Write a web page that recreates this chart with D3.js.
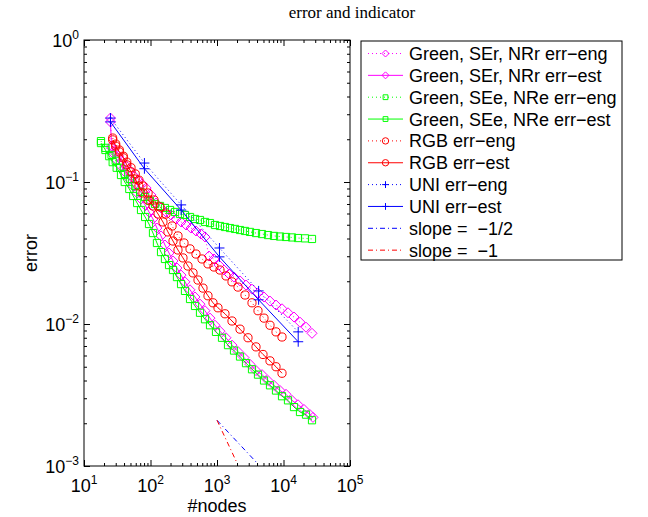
<!DOCTYPE html>
<meta charset="utf-8">
<script src="https://d3js.org/d3.v7.min.js"></script>
<style>
    body { margin: 0; background: #fff; }
    text { font-family: "Liberation Sans", Arial, Helvetica, sans-serif; }
</style>
<div id="chart"></div>

<script>
    // Green, SEr, NRr  (magenta diamonds)
    const srEngN = [25, 26, 28, 33, 37, 43, 49, 57, 65, 75, 86, 102, 121, 144, 171, 203, 242, 288, 342, 406,
        483, 575, 660, 758, 901, 1072, 1274, 1515, 1801, 2218, 2730, 3359, 4136, 5092, 6266, 7714, 9494, 11685,
        14385, 17706, 21795, 26827];
    const srEngErr = [0.282, 0.179, 0.165, 0.152, 0.141, 0.130, 0.120, 0.110, 0.103, 0.0968, 0.0907, 0.0810,
        0.0711, 0.0656, 0.0615, 0.0586, 0.0549, 0.0523, 0.0498, 0.0474, 0.0452, 0.0430, 0.0410, 0.0301, 0.0287,
        0.0260, 0.0240, 0.0225, 0.0214, 0.0201, 0.0188, 0.0176, 0.0165, 0.0155, 0.0145, 0.0136, 0.0128, 0.0120,
        0.0112, 0.0103, 0.0095, 0.0086];
    const srEstN = [25, 26, 28, 31, 36, 41, 48, 55, 63, 72, 83, 95, 109, 125, 144, 165, 190, 218, 250, 288,
        330, 393, 467, 555, 660, 785, 933, 1109, 1366, 1681, 2069, 2547, 3135, 3860, 4751, 5848, 7196, 8859,
        10904, 13425, 16520, 20336, 25026, 27770];
    const srEstErr = [0.265, 0.174, 0.158, 0.143, 0.130, 0.118, 0.105, 0.0937, 0.0837, 0.0759, 0.0689, 0.0615,
        0.0549, 0.0474, 0.0417, 0.0360, 0.0316, 0.0278, 0.0248, 0.0221, 0.0198, 0.0174, 0.0155, 0.0138, 0.0124,
        0.0110, 0.0098, 0.0089, 0.0080, 0.0071, 0.0064, 0.0058, 0.0052, 0.0047, 0.0044, 0.0040, 0.0037, 0.0034,
        0.0032, 0.0029, 0.0027, 0.0025, 0.0023, 0.0022];

    // Green, SEe, NRe  (green squares)
    const seEngN = [18, 21, 26, 30, 35, 41, 49, 59, 70, 83, 98, 117, 139, 165, 197, 234, 278, 330, 393, 467,
        555, 660, 785, 933, 1109, 1319, 1569, 1865, 2218, 2637, 3135, 3860, 4751, 5848, 7196, 8859, 10904,
        13425, 16520, 21053, 26827];
    const seEngErr = [0.194, 0.174, 0.155, 0.141, 0.126, 0.114, 0.105, 0.0937, 0.0851, 0.0784, 0.0735, 0.0700,
        0.0678, 0.0656, 0.0635, 0.0615, 0.0595, 0.0586, 0.0567, 0.0549, 0.0540, 0.0523, 0.0514, 0.0498, 0.0490,
        0.0482, 0.0474, 0.0467, 0.0459, 0.0452, 0.0445, 0.0437, 0.0430, 0.0423, 0.0417, 0.0413, 0.0410, 0.0407,
        0.0403, 0.0401, 0.0397];
    const seEstN = [18, 21, 24, 27, 31, 36, 41, 48, 55, 63, 72, 83, 95, 109, 125, 144, 165, 190, 218, 250,
        288, 330, 393, 467, 555, 660, 785, 966, 1189, 1464, 1801, 2218, 2730, 3359, 4136, 5092, 6266, 7714,
        9494, 11685, 14385, 17706, 21795, 26827];
    const seEstErr = [0.188, 0.168, 0.152, 0.138, 0.126, 0.112, 0.100, 0.0893, 0.0797, 0.0711, 0.0635, 0.0567,
        0.0506, 0.0437, 0.0372, 0.0321, 0.0287, 0.0260, 0.0240, 0.0214, 0.0191, 0.0171, 0.0150, 0.0134, 0.0120,
        0.0108, 0.0098, 0.0088, 0.0080, 0.0071, 0.0065, 0.0059, 0.0053, 0.0048, 0.0044, 0.0040, 0.0037, 0.0034,
        0.0031, 0.0029, 0.0026, 0.0024, 0.0023, 0.0021];

    // RGB  (red circles)
    const rgbEngN = [27, 30, 34, 39, 44, 51, 59, 67, 77, 92, 113, 139, 171, 211, 259, 319, 393, 483, 595, 732,
        901, 1109, 1366, 1681, 2069, 2637, 3359, 4136, 5092, 6266, 7714, 9494];
    const rgbEngErr = [0.204, 0.185, 0.168, 0.152, 0.138, 0.126, 0.114, 0.103, 0.0937, 0.0837, 0.0747, 0.0667,
        0.0595, 0.0490, 0.0417, 0.0372, 0.0338, 0.0311, 0.0287, 0.0265, 0.0252, 0.0240, 0.0218, 0.0198, 0.0182,
        0.0160, 0.0141, 0.0124, 0.0110, 0.0098, 0.0088, 0.0081];
    const rgbEstN = [27, 30, 34, 39, 44, 51, 59, 67, 77, 92, 109, 130, 154, 183, 218, 259, 308, 366, 436, 518,
        616, 732, 871, 1035, 1319, 1681, 2218, 2926, 3860, 4918, 6266, 7714, 9494];
    const rgbEstErr = [0.198, 0.179, 0.163, 0.148, 0.132, 0.118, 0.105, 0.0937, 0.0837, 0.0747, 0.0678, 0.0595,
        0.0523, 0.0445, 0.0384, 0.0332, 0.0292, 0.0256, 0.0229, 0.0204, 0.0179, 0.0158, 0.0141, 0.0130, 0.0118,
        0.0105, 0.0092, 0.0080, 0.0069, 0.0061, 0.0055, 0.0050, 0.0045];

    // UNI  (blue plus)
    const uniN = [25, 81, 289, 1089, 4225, 16641];
    const uniEngErr = [0.282, 0.136, 0.069, 0.0343, 0.0171, 0.0088];
    const uniEstErr = [0.265, 0.124, 0.0635, 0.0297, 0.0148, 0.0075];

    // reference slopes
    const slopeHalfN = [1000, 4000];
    const slopeHalfErr = [0.0021, 0.00105];
    const slopeOneN = [1000, 2000];
    const slopeOneErr = [0.0021, 0.00105];

    const xExponents = [1, 2, 3, 4, 5];
    const yExponents = [-3, -2, -1, 0];

    const legendLabels = ["Green, SEr, NRr err\u2212eng", "Green, SEr, NRr err\u2212est",
        "Green, SEe, NRe err\u2212eng", "Green, SEe, NRe err\u2212est", "RGB err\u2212eng", "RGB err\u2212est",
        "UNI err\u2212eng", "UNI err\u2212est", "slope =  \u22121/2", "slope =  \u22121"];

    // series styling
    const DOT = "1,3", DASHDOT = "5,3,1,3";
    const series = [
        { n: srEngN, e: srEngErr, color: "#ff00ff", dash: DOT, marker: "diamond" },
        { n: srEstN, e: srEstErr, color: "#ff00ff", dash: null, marker: "diamond" },
        { n: seEngN, e: seEngErr, color: "#00ff00", dash: DOT, marker: "square" },
        { n: seEstN, e: seEstErr, color: "#00ff00", dash: null, marker: "square" },
        { n: rgbEngN, e: rgbEngErr, color: "#ff0000", dash: DOT, marker: "circle" },
        { n: rgbEstN, e: rgbEstErr, color: "#ff0000", dash: null, marker: "circle" },
        { n: uniN, e: uniEngErr, color: "#0000ff", dash: DOT, marker: "plus" },
        { n: uniN, e: uniEstErr, color: "#0000ff", dash: null, marker: "plus" },
        { n: slopeHalfN, e: slopeHalfErr, color: "#0000ff", dash: DASHDOT, marker: null },
        { n: slopeOneN, e: slopeOneErr, color: "#ff0000", dash: DASHDOT, marker: null }
    ];
    series.forEach((s, i) => s.label = legendLabels[i]);

    const W = 648, H = 517;
    const plot = { left: 84, right: 350, top: 40, bottom: 466 };

    const svg = d3.select("#chart")
        .append("svg")
        .attr("width", W)
        .attr("height", H);

    const x = d3.scaleLog().domain([10, 1e5]).range([plot.left, plot.right]);
    const y = d3.scaleLog().domain([1e-3, 1]).range([plot.bottom, plot.top]);

    // marker paths, size = half width
    function markerPath(type, r) {
        if (type === "diamond") return `M0,${-r}L${r},0L0,${r}L${-r},0Z`;
        if (type === "square") return `M${-r},${-r}H${r}V${r}H${-r}Z`;
        if (type === "circle") return `M${r},0A${r},${r} 0 1,1 ${-r},0A${r},${r} 0 1,1 ${r},0`;
        if (type === "plus") return `M${-r},0H${r}M0,${-r}V${r}`;
        return "";
    }
    const plotSize = { diamond: 5, square: 3.6, circle: 4.1, plus: 5 };
    const legendSize = { diamond: 3.5, square: 2.4, circle: 3.2, plus: 3.4 };

    // axes box with inward ticks on all four sides
    function ticks(axis, transform) {
        const g = svg.append("g")
            .attr("transform", transform)
            .call(axis.tickSize(-3).tickFormat(""));
        g.select(".domain").remove();
        g.selectAll(".tick line")
            .attr("stroke", "#000")
            .each(function(d) {
                const major = Math.abs(Math.log10(d) - Math.round(Math.log10(d))) < 1e-9;
                if (major) {
                    const el = d3.select(this);
                    if (el.attr("y2") !== null) el.attr("y2", el.attr("y2") * 2);
                    if (el.attr("x2") !== null) el.attr("x2", el.attr("x2") * 2);
                }
            });
    }
    ticks(d3.axisBottom(x).tickValues(x.ticks()), `translate(0,${plot.bottom})`);
    ticks(d3.axisTop(x).tickValues(x.ticks()), `translate(0,${plot.top})`);
    ticks(d3.axisLeft(y).tickValues(y.ticks()), `translate(${plot.left},0)`);
    ticks(d3.axisRight(y).tickValues(y.ticks()), `translate(${plot.right},0)`);

    svg.append("rect")
        .attr("x", plot.left)
        .attr("y", plot.top)
        .attr("width", plot.right - plot.left)
        .attr("height", plot.bottom - plot.top)
        .attr("fill", "none")
        .attr("stroke", "#000")
        .attr("stroke-width", 1);

    // tick labels 10^k
    const xl = svg.selectAll(".xlab")
        .data(xExponents)
        .join("text")
        .attr("class", "xlab")
        .attr("x", d => x(Math.pow(10, d)))
        .attr("y", plot.bottom + 26)
        .attr("text-anchor", "middle")
        .style("font-size", "18px");
    xl.append("tspan").text("10");
    xl.append("tspan").attr("dy", -8).style("font-size", "12px").text(d => d);

    const yl = svg.selectAll(".ylab")
        .data(yExponents)
        .join("text")
        .attr("class", "ylab")
        .attr("x", plot.left - 5)
        .attr("y", d => y(Math.pow(10, d)) + 7)
        .attr("text-anchor", "end")
        .style("font-size", "18px");
    yl.append("tspan").text("10");
    yl.append("tspan").attr("dy", -8).style("font-size", "12px").text(d => d < 0 ? "\u2212" + (-d) : d);

    // labels
    svg.append("text")
        .attr("x", (plot.left + plot.right) / 2)
        .attr("y", 512)
        .attr("text-anchor", "middle")
        .style("font-size", "18px")
        .text("#nodes");

    svg.append("text")
        .attr("transform", `translate(37,${(plot.top + plot.bottom) / 2}) rotate(-90)`)
        .attr("text-anchor", "middle")
        .style("font-size", "18px")
        .text("error");

    svg.append("text")
        .attr("x", 352)
        .attr("y", 18)
        .attr("text-anchor", "middle")
        .style("font-family", "'Liberation Serif', 'Times New Roman', serif")
        .style("font-size", "17px")
        .text("error and indicator");

    // data
    const line = d3.line()
        .x(d => x(d[0]))
        .y(d => y(d[1]));

    series.forEach(s => {
        const pts = d3.zip(s.n, s.e);
        svg.append("path")
            .datum(pts)
            .attr("fill", "none")
            .attr("stroke", s.color)
            .attr("stroke-width", 1)
            .attr("stroke-dasharray", s.dash)
            .attr("d", line);
        if (s.marker) {
            svg.append("g")
                .selectAll("path")
                .data(pts)
                .join("path")
                .attr("transform", d => `translate(${x(d[0])},${y(d[1])})`)
                .attr("d", markerPath(s.marker, plotSize[s.marker]))
                .attr("fill", "none")
                .attr("stroke", s.color)
                .attr("stroke-width", 1);
        }
    });

    // legend
    const lg = svg.append("g").attr("transform", "translate(361,41)");
    lg.append("rect")
        .attr("width", 261)
        .attr("height", 219)
        .attr("fill", "#fff")
        .attr("stroke", "#000")
        .attr("stroke-width", 1);

    const rows = lg.selectAll(".row")
        .data(series)
        .join("g")
        .attr("class", "row")
        .attr("transform", (d, i) => `translate(0,${12.5 + i * 21.85})`);

    rows.append("line")
        .attr("x1", 7)
        .attr("x2", 42)
        .attr("stroke", d => d.color)
        .attr("stroke-width", 1)
        .attr("stroke-dasharray", d => d.dash);

    rows.filter(d => d.marker)
        .append("path")
        .attr("transform", "translate(24.5,0)")
        .attr("d", d => markerPath(d.marker, legendSize[d.marker]))
        .attr("fill", "none")
        .attr("stroke", d => d.color);

    rows.append("text")
        .attr("x", 48)
        .attr("y", 6.5)
        .style("font-size", "18px")
        .style("white-space", "pre")
        .text(d => d.label);
</script>
